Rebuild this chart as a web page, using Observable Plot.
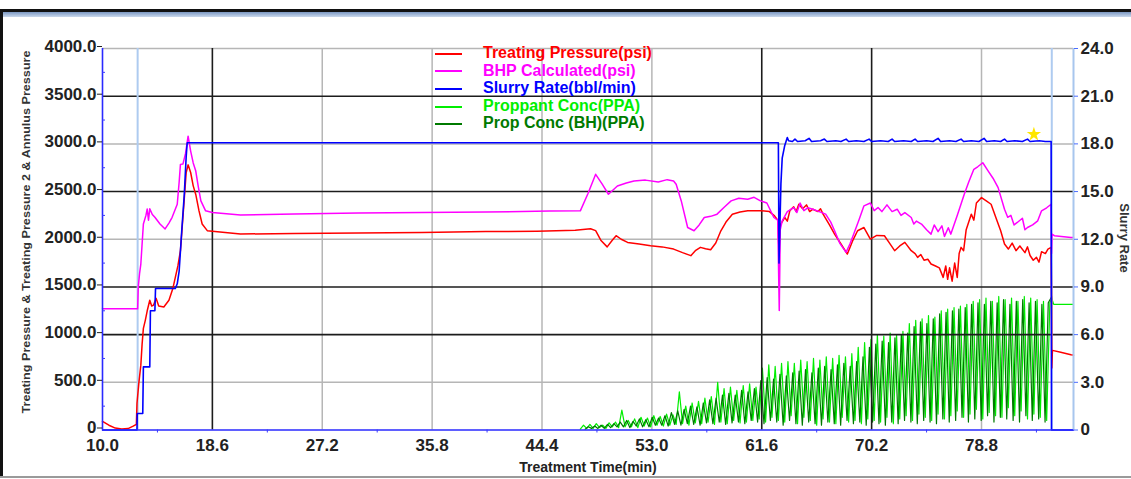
<!DOCTYPE html>
<html>
<head>
<meta charset="utf-8">
<script src="https://cdn.jsdelivr.net/npm/d3@7"></script>
<script src="https://cdn.jsdelivr.net/npm/@observablehq/plot@0.6"></script>
<style>
  html, body { margin: 0; padding: 0; background: #fff; }
  #wrap { position: relative; width: 1131px; height: 479px; overflow: hidden; background: #fff;
          font-family: 'Liberation Sans', Arial, sans-serif; }
  #wrap svg { position: absolute; left: 0; top: 0; }
  .frame-left { position: absolute; left: 0; top: 9px; width: 3px; height: 468px; background: #111; }
  .frame-top { position: absolute; left: 0; top: 9px; width: 1131px; height: 3px; background: #111; }
  .frame-band { position: absolute; left: 3px; top: 12px; width: 1128px; height: 5px;
                background: linear-gradient(#7c98c2, #c9d8ec); }
  .frame-bottom { position: absolute; left: 0; top: 476px; width: 1131px; height: 2px; background: #9a9a9a; }
  #legend { position: absolute; left: 435px; top: 44px; font-weight: bold; font-size: 16px; }
  #legend .row { height: 17.6px; line-height: 17.6px; white-space: nowrap; }
  #legend .sw { display: inline-block; width: 27px; height: 2px; vertical-align: middle; margin-right: 21px; }
</style>
</head>
<body>
<div id="wrap">
  <div class="frame-top"></div>
  <div class="frame-band"></div>
  <div class="frame-left"></div>
  <div class="frame-bottom"></div>
</div>
<script>
// ---------------- DATA ----------------
const timeTicks = [10.0, 18.6, 27.2, 35.8, 44.4, 53.0, 61.6, 70.2, 78.8];
const minorTimeTicks = [14.3, 22.9, 31.5, 40.1, 48.7, 57.3, 65.9, 74.5, 83.1];
const pressureTicks = [0, 500, 1000, 1500, 2000, 2500, 3000, 3500, 4000];
const minorPressureTicks = [250, 750, 1250, 1750, 2250, 2750, 3250, 3750];
const rateTicks = [0, 3, 6, 9, 12, 15, 18, 21, 24];
const gridBlackTime = [18.6, 61.6, 70.2];
const gridGrayTime = [27.2, 35.8, 44.4, 53.0, 78.8];
const gridBlackPressure = [1000, 1500, 2500, 3500];
const gridGrayPressure = [500, 2000, 3000, 4000];
const stageTimes = [12.75, 84.3];
const timeDomain = [10, 86];
const pressureDomain = [0, 4000];
const rateDomain = [0, 24];

const seriesNames = ["Treating Pressure(psi)", "BHP Calculated(psi)", "Slurry Rate(bbl/min)", "Proppant Conc(PPA)", "Prop Conc (BH)(PPA)"];
const seriesColors = ["#ff0000", "#ff00ff", "#0000ff", "#00ee00", "#007a00"];

// Treating Pressure (psi): [time min, psi]
const treatingPressure = [
  [10.0, 90], [10.5, 50], [11.0, 20], [11.5, 10], [12.0, 15], [12.4, 40], [12.65, 60], [12.7, 280],
  [12.85, 500], [13.0, 680], [13.1, 900], [13.2, 1065], [13.35, 1150], [13.5, 1250], [13.7, 1360],
  [13.85, 1300], [14.0, 1310], [14.2, 1380], [14.4, 1300], [14.8, 1290], [15.2, 1360], [15.5, 1480],
  [15.7, 1600], [15.9, 1720], [16.1, 1880], [16.35, 2330], [16.55, 2700], [16.7, 2780], [16.9, 2700],
  [17.1, 2560], [17.3, 2470], [17.55, 2300], [17.8, 2160], [18.2, 2090], [18.6, 2085], [20.8, 2055],
  [25, 2060], [30, 2065], [35, 2070], [40, 2080], [44, 2085], [47.0, 2095], [48.2, 2110], [48.6, 2090],
  [49.0, 1990], [49.5, 1920], [49.9, 1990], [50.2, 2037], [50.6, 2000], [51.1, 1967], [52.0, 1950],
  [52.9, 1932], [53.8, 1920], [54.7, 1897], [55.4, 1860], [56.05, 1828], [56.4, 1880], [56.8, 1915],
  [57.2, 1900], [57.6, 1890], [58.0, 1960], [58.4, 2089], [58.8, 2180], [59.3, 2263], [59.9, 2285],
  [60.5, 2298], [61.5, 2300], [62.2, 2290], [62.6, 2245], [62.85, 2200], [62.95, 1880], [63.05, 2150],
  [63.4, 2228], [63.6, 2190], [63.8, 2300], [64.1, 2340], [64.3, 2290], [64.5, 2367], [64.8, 2320],
  [65.1, 2360], [65.35, 2290], [65.6, 2315], [66.0, 2290], [66.2, 2320], [66.4, 2263], [66.9, 2150],
  [67.3, 2054], [67.8, 1950], [68.3, 1845], [68.7, 1980], [69.1, 2089], [69.6, 2123], [70.1, 2002],
  [70.6, 2040], [71.2, 2037], [71.6, 1960], [72.0, 1880], [72.4, 1930], [72.8, 1967], [73.3, 1880],
  [73.6, 1850], [73.8, 1810], [74.05, 1840], [74.3, 1780], [74.6, 1790], [74.85, 1741], [75.2, 1720],
  [75.5, 1700], [75.8, 1600], [76.0, 1720], [76.15, 1580], [76.3, 1700], [76.5, 1560], [76.7, 1750],
  [76.9, 1600], [77.05, 1850], [77.2, 1915], [77.4, 1880], [77.6, 2100], [78.0, 2263], [78.2, 2200],
  [78.4, 2380], [78.8, 2437], [79.2, 2400], [79.55, 2367], [80.0, 2200], [80.3, 2089], [80.6, 1950],
  [80.9, 1897], [81.2, 1960], [81.5, 1880], [81.8, 1930], [82.2, 1860], [82.4, 1920], [82.6, 1830],
  [82.85, 1780], [83.1, 1810], [83.3, 1760], [83.5, 1870], [83.8, 1850], [84.0, 1897], [84.25, 1915],
  [84.28, 1400], [84.3, 650], [84.35, 835], [85.0, 815], [85.8, 790], [86.0, 785]
];

// BHP Calculated (psi): [time min, psi]
const bhpCalculated = [
  [10.0, 1270], [12.75, 1270], [12.8, 1500], [12.9, 1640], [13.0, 1740], [13.2, 2160], [13.4, 2250],
  [13.5, 2317], [13.6, 2200], [13.7, 2320], [13.9, 2260], [14.1, 2230], [14.5, 2160], [14.9, 2108],
  [15.2, 2170], [15.45, 2230], [15.85, 2367], [16.0, 2600], [16.1, 2785], [16.3, 2790], [16.5, 2900],
  [16.7, 3081], [16.9, 2924], [17.1, 2800], [17.3, 2715], [17.5, 2550], [17.7, 2402], [18.07, 2298],
  [18.6, 2280], [20.8, 2253], [25, 2265], [30, 2275], [35, 2280], [40, 2285], [45, 2295], [47.4, 2298],
  [48.0, 2480], [48.6, 2681], [49.1, 2580], [49.6, 2472], [50.3, 2559], [51.0, 2590], [51.6, 2611],
  [52.5, 2620], [53.5, 2600], [54.2, 2625], [54.7, 2611], [54.9, 2577], [55.3, 2402], [55.8, 2123],
  [56.3, 2089], [56.7, 2150], [57.1, 2228], [57.6, 2240], [58.1, 2263], [58.7, 2340], [59.2, 2402],
  [59.8, 2430], [60.5, 2419], [61.0, 2440], [61.5, 2402], [62.0, 2380], [62.55, 2228], [62.85, 2200],
  [62.97, 1253], [63.05, 2100], [63.2, 2193], [63.6, 2290], [64.1, 2332], [64.35, 2280], [64.6, 2380],
  [64.9, 2300], [65.2, 2330], [65.6, 2315], [66.1, 2290], [66.6, 2263], [67.0, 2180], [67.3, 2089],
  [67.7, 1960], [68.2, 1863], [68.5, 1950], [68.8, 2054], [69.2, 2200], [69.6, 2350], [70.1, 2380],
  [70.4, 2300], [70.7, 2332], [71.0, 2290], [71.4, 2360], [71.8, 2290], [72.2, 2315], [72.5, 2250],
  [72.8, 2280], [73.3, 2228], [73.5, 2160], [73.7, 2190], [74.1, 2159], [74.5, 2100], [74.85, 2054],
  [75.1, 2150], [75.4, 2080], [75.7, 2140], [75.9, 2030], [76.2, 2120], [76.4, 2054], [76.9, 2250],
  [77.45, 2472], [77.8, 2600], [78.2, 2733], [78.5, 2760], [78.9, 2802], [79.3, 2720], [79.7, 2640],
  [80.1, 2541], [80.6, 2315], [80.85, 2230], [81.1, 2250], [81.35, 2150], [81.6, 2176], [82.0, 2220],
  [82.2, 2100], [82.4, 2123], [82.8, 2150], [83.2, 2193], [83.5, 2298], [83.9, 2330], [84.25, 2367],
  [84.28, 1850], [84.32, 2054], [84.5, 2037], [85.8, 2019], [86.0, 2019]
];

// Slurry Rate (bbl/min): [time min, rate]
const slurryRate = [
  [10.0, 0], [12.7, 0], [12.72, 1.04], [13.15, 1.04], [13.2, 3.97], [13.7, 3.97], [13.75, 7.5],
  [14.1, 7.5], [14.15, 8.9], [15.7, 8.9], [15.85, 9.2], [16.0, 10.0], [16.2, 12.5], [16.4, 14.8],
  [16.55, 17.2], [16.63, 18.07], [62.9, 18.07], [62.95, 10.5], [63.1, 15.5], [63.2, 17.1],
  [63.4, 17.9], [63.6, 18.4], [63.7, 18.2], [64.0, 18.15], [64.2, 18.3], [64.4, 18.15], [65.0, 18.2],
  [65.3, 18.35], [65.5, 18.15], [66.2, 18.2], [66.5, 18.3], [66.7, 18.15], [67.4, 18.2], [67.8, 18.15],
  [68.2, 18.3], [68.4, 18.15], [69.0, 18.2], [69.6, 18.15], [70.0, 18.3], [70.2, 18.15], [70.9, 18.2],
  [71.5, 18.15], [71.8, 18.3], [72.0, 18.15], [72.7, 18.2], [73.3, 18.15], [73.6, 18.3], [73.8, 18.15],
  [74.5, 18.2], [75.0, 18.15], [75.4, 18.35], [75.6, 18.15], [76.3, 18.2], [76.8, 18.15], [77.2, 18.3],
  [77.4, 18.15], [78.0, 18.2], [78.6, 18.15], [79.0, 18.35], [79.2, 18.15], [79.8, 18.2], [80.3, 18.15],
  [80.6, 18.3], [80.8, 18.15], [81.4, 18.2], [82.0, 18.15], [82.4, 18.3], [82.6, 18.15], [83.3, 18.2],
  [83.8, 18.15], [84.25, 18.15], [84.28, 0], [86.0, 0]
];

// Proppant Conc (PPA), sampled every 0.25 min from 47.4 min
const propConcStart = 47.4;
const propConcStep = 0.25;
const propConc = [
  0.05, 0.3, 0.1, 0.35,   0.1, 0.4, 0.15, 0.3,   0.1, 0.45, 0.2, 0.5,   0.15, 1.25, 0.2, 0.6,
  0.2, 0.7, 0.15, 0.8,    0.25, 0.75, 0.2, 0.9,  0.3, 0.85, 0.25, 1.0,  0.3, 0.95, 0.35, 2.4,
  0.4, 1.5, 0.3, 1.7,     0.45, 1.8, 0.4, 2.0,   0.5, 2.1, 0.35, 3.0,   0.5, 2.6, 0.4, 2.7,
  0.6, 2.5, 0.45, 2.8,    0.5, 2.9, 0.6, 2.7,    0.7, 3.9, 0.5, 4.1,    0.8, 4.0, 0.6, 4.2,
  0.5, 4.3, 0.9, 4.2,     0.4, 4.4, 0.8, 4.3,    0.6, 4.5, 0.3, 4.4,    0.7, 4.6, 0.5, 4.5,
  0.4, 4.7, 0.8, 4.6,     0.5, 4.8, 0.6, 5.2,    0.4, 5.5, 0.7, 5.7,    0.6, 6.0, 0.5, 5.9,
  0.8, 6.1, 0.4, 6.0,     0.7, 6.2, 0.9, 6.7,    0.6, 6.9, 1.0, 7.0,    0.8, 7.2, 0.6, 7.1,
  1.0, 7.5, 0.7, 7.6,     0.9, 7.7, 1.2, 7.8,    0.8, 7.9, 1.0, 8.1,    1.3, 8.2, 0.7, 8.3,
  1.1, 8.1, 0.9, 8.4,     0.8, 8.2, 1.4, 8.3,    0.9, 8.1, 1.2, 8.4,    0.7, 8.3, 1.0, 8.2,
  0.8, 8.1, 0.6, 8.0
];
const propConcTail = [[84.3, 8.3], [84.45, 7.9], [86.0, 7.9]];

// Prop Conc (BH) (PPA), sampled every 0.25 min from 47.775 min
const propBHStart = 47.775;
const propBHStep = 0.25;
const propBH = [
  0.05, 0.2, 0.1, 0.25,   0.1, 0.3, 0.1, 0.35,   0.15, 0.4, 0.2, 0.5,   0.2, 0.6, 0.15, 0.55,
  0.25, 0.7, 0.2, 0.65,   0.2, 0.8, 0.3, 0.75,   0.3, 0.9, 0.25, 1.1,   0.35, 1.2, 0.3, 1.3,
  0.4, 1.5, 0.35, 1.45,   0.3, 1.7, 0.45, 1.9,   0.4, 2.0, 0.5, 2.2,    0.35, 2.3, 0.45, 2.2,
  0.5, 2.5, 0.4, 2.4,     0.6, 2.6, 0.5, 3.1,    0.4, 3.3, 0.6, 3.2,    0.5, 3.5, 0.3, 3.4,
  0.6, 3.6, 0.4, 3.7,     0.3, 3.8, 0.5, 3.6,    0.4, 3.9, 0.3, 4.0,    0.5, 3.8, 0.4, 4.1,
  0.3, 4.2, 0.6, 4.0,     0.4, 4.3, 0.5, 4.6,    0.3, 5.2, 0.5, 5.4,    0.4, 5.6, 0.3, 5.5,
  0.5, 5.8, 0.4, 6.0,     0.6, 6.1, 0.5, 6.5,    0.4, 6.8, 0.6, 6.7,    0.5, 7.0, 0.4, 7.3,
  0.7, 7.4, 0.5, 7.5,     0.6, 7.6, 0.8, 7.7,    0.5, 7.9, 0.7, 8.0,    0.6, 7.9, 0.9, 8.1,
  0.5, 8.0, 0.8, 8.2,     0.7, 7.9, 0.6, 8.1,    0.5, 8.2, 0.9, 8.0,    0.6, 8.1, 0.7, 7.9,
  0.5, 8.0
];
const propBHTail = [[84.3, 8.4], [84.35, 7.95]];

// End-of-stage marker on slurry rate
const stageMarker = [[82.9, 18.6]];

// ---------------- BUILD ----------------
const psiPerRate = (pressureDomain[1] - pressureDomain[0]) / (rateDomain[1] - rateDomain[0]);
const propConcRows = propConc.map((v, i) => [propConcStart + i * propConcStep, v]).concat(propConcTail);
const propBHRows = propBH.map((v, i) => [propBHStart + i * propBHStep, v]).concat(propBHTail);
const rateTicksPsi = rateTicks.map(r => r * psiPerRate);

const F = "'Liberation Sans', Arial, Helvetica, sans-serif";
const fmtP = d => d === 0 ? "0" : d.toFixed(1);
const fmtR = d => { const r = d / psiPerRate; return r === 0 ? "0" : r.toFixed(1); };

const chart = Plot.plot({
  width: 1131,
  height: 479,
  marginLeft: 102,
  marginRight: 58,
  marginTop: 48,
  marginBottom: 49.5,
  x: { domain: timeDomain },
  y: { domain: pressureDomain },
  style: { fontFamily: F, fontSize: "17px", fontWeight: "bold", background: "transparent", overflow: "visible" },
  marks: [
    Plot.ruleY(gridGrayPressure, { stroke: "#b6b6b6", strokeWidth: 1.5 }),
    Plot.ruleX(gridGrayTime, { stroke: "#b6b6b6", strokeWidth: 1.5 }),
    Plot.line(propConcRows, { x: d => d[0], y: d => d[1] * psiPerRate, stroke: seriesColors[3], strokeWidth: 1.2 }),
    Plot.line(propBHRows, { x: d => d[0], y: d => d[1] * psiPerRate, stroke: seriesColors[4], strokeWidth: 1.2 }),
    Plot.ruleY(gridBlackPressure, { stroke: "#1c1c1c", strokeWidth: 1.6 }),
    Plot.ruleX(gridBlackTime, { stroke: "#1c1c1c", strokeWidth: 1.6 }),
    Plot.ruleX(stageTimes, { stroke: "#aecbf0", strokeWidth: 2 }),
    Plot.line(treatingPressure, { x: d => d[0], y: d => d[1], stroke: seriesColors[0], strokeWidth: 1.5 }),
    Plot.line(bhpCalculated, { x: d => d[0], y: d => d[1], stroke: seriesColors[1], strokeWidth: 1.5 }),
    Plot.line(slurryRate, { x: d => d[0], y: d => d[1] * psiPerRate, stroke: seriesColors[2], strokeWidth: 1.6 }),
    Plot.dot(stageMarker, { x: d => d[0], y: d => d[1] * psiPerRate, symbol: "star", fill: "#ffe600", r: 4.5 }),
    Plot.ruleX([timeDomain[1]], { stroke: "#a8c6ee", strokeWidth: 2 }),
    Plot.ruleX([timeDomain[0]], { stroke: "#2a2aff", strokeWidth: 1.6 }),
    Plot.ruleY([pressureDomain[0]], { stroke: "#2a2aff", strokeWidth: 1.6 }),
    Plot.axisY(pressureTicks, { anchor: "left", tickSize: 5, tickPadding: 1, dy: -2, tickFormat: fmtP, fill: "#222", stroke: "#222", label: null }),
    Plot.axisY(minorPressureTicks, { anchor: "left", tickSize: -3, tickFormat: () => "", stroke: "#3a3aff", label: null }),
    Plot.axisY(rateTicksPsi, { anchor: "right", tickSize: 4, tickPadding: 3, tickFormat: fmtR, fill: "#222", stroke: "#4a6cff", label: null }),
    Plot.axisX(timeTicks, { anchor: "bottom", tickSize: 0, tickPadding: 9, tickFormat: d => d.toFixed(1), fill: "#222", label: null }),
    Plot.axisX(minorTimeTicks, { anchor: "bottom", tickSize: 3, tickFormat: () => "", stroke: "#3a3aff", label: null })
  ]
});

const wrap = document.getElementById("wrap");
wrap.appendChild(chart);

// Axis titles
const svg = d3.select(chart);
svg.append("text")
  .attr("transform", "translate(30,232) rotate(-90)")
  .attr("text-anchor", "middle")
  .attr("font-size", 11).attr("font-weight", "bold").attr("fill", "#333").attr("font-family", F)
  .attr("textLength", 363).attr("lengthAdjust", "spacingAndGlyphs")
  .text("Treating Pressure & Treating Pressure 2 & Annulus Pressure");
svg.append("text")
  .attr("transform", "translate(1120,238) rotate(90)")
  .attr("text-anchor", "middle")
  .attr("font-size", 13).attr("font-weight", "bold").attr("fill", "#333").attr("font-family", F)
  .text("Slurry Rate");
svg.append("text")
  .attr("x", 588).attr("y", 472)
  .attr("text-anchor", "middle")
  .attr("font-size", 14).attr("font-weight", "bold").attr("fill", "#222").attr("font-family", F)
  .text("Treatment Time(min)");

// Legend
const legend = document.createElement("div");
legend.id = "legend";
seriesNames.forEach((name, i) => {
  const row = document.createElement("div");
  row.className = "row";
  const sw = document.createElement("span");
  sw.className = "sw";
  sw.style.background = seriesColors[i];
  const tx = document.createElement("span");
  tx.textContent = name;
  tx.style.color = seriesColors[i];
  row.appendChild(sw);
  row.appendChild(tx);
  legend.appendChild(row);
});
wrap.appendChild(legend);
</script>
</body>
</html>
